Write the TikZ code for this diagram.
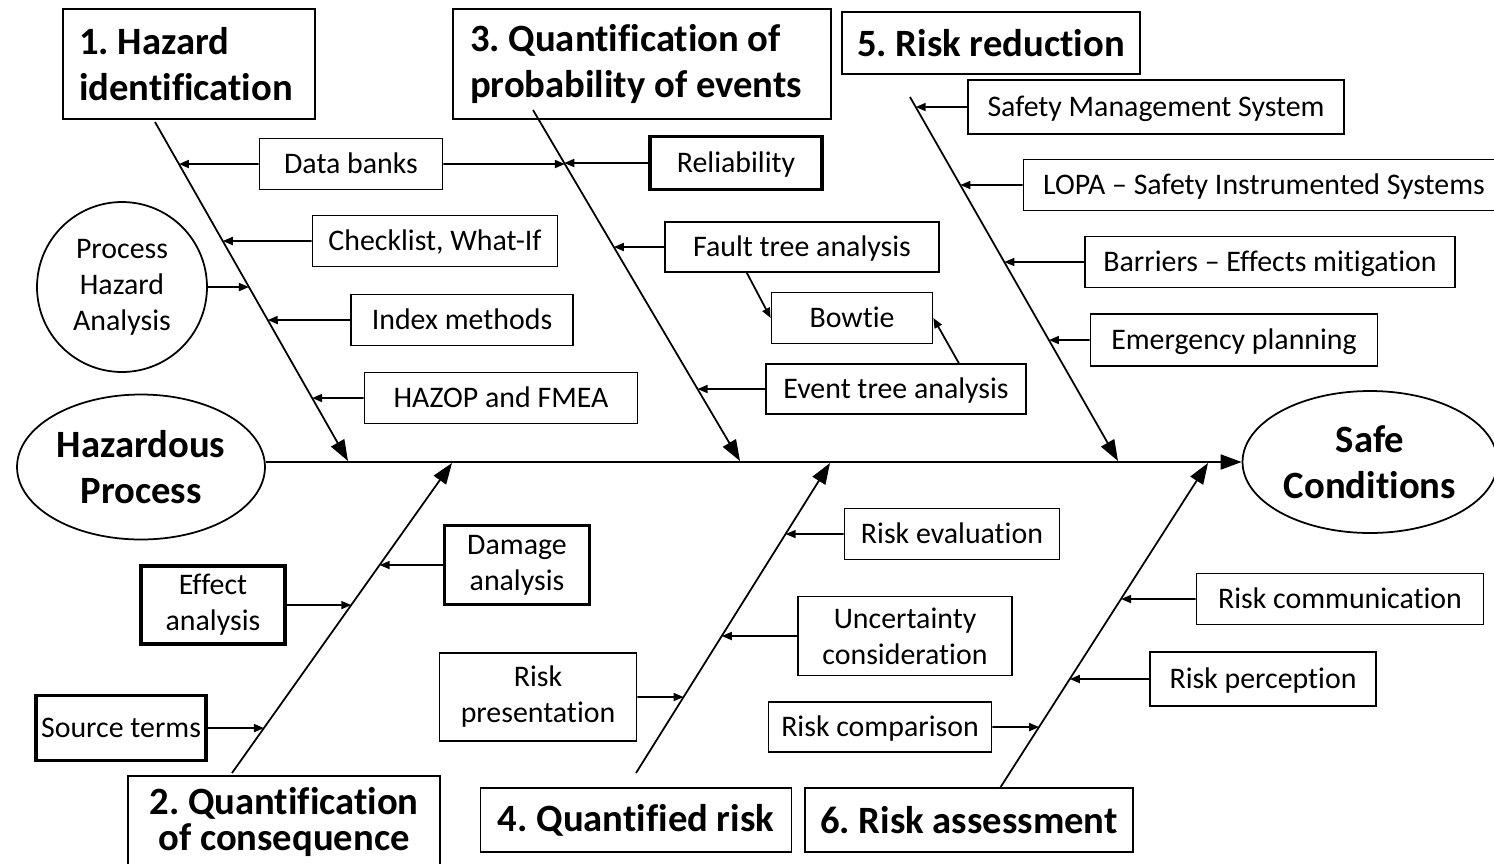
\documentclass[tikz,border=0pt]{standalone}
\usepackage{fontspec}
\setmainfont{Carlito}[Ligatures = {TeX, NoCommon}]
\usetikzlibrary{shapes.geometric,arrows.meta,calc}
\frenchspacing

\begin{document}
\begin{tikzpicture}[x = 0.02cm, y = -0.02cm,
  every node/.style = {font = \fontsize{17}{20.5}\selectfont, align = center},
  box/.style = {draw, line width = 1pt, inner xsep = 2pt, minimum height = 1.02cm},
  oneline/.style = {box, text height = 14.4pt, text depth = 3.4pt},
  thickbox/.style = {box, line width = 2pt},
  title/.style = {draw, line width = 1pt, inner xsep = 2pt, font = \bfseries\fontsize{22}{26}\selectfont},
  bubble/.style = {draw, line width = 1pt, inner sep = 0pt},
  bone/.style = {line width = 1pt, -{Triangle[length = 0.42cm, width = 0.3cm]}},
  twig/.style = {line width = 1pt, -{Triangle[length = 0.2cm, width = 0.16cm]}}]

  \useasboundingbox (0, 0) rectangle (1494, 863);
  \clip (0, 0) rectangle (1494, 863);

  % head and tail
  \node [bubble, ellipse, minimum width = 4.96cm, minimum height = 2.9cm, font = \bfseries\fontsize{22}{26}\selectfont] (haz) at (141, 467) {Hazardous\\Process};
  \node [bubble, ellipse, minimum width = 5.1cm, minimum height = 2.84cm, font = \bfseries\fontsize{22}{26}\selectfont] (safe) at (1370, 462) {Safe\\Conditions};
  \draw [bone] (haz.east |- safe.west) -- (safe.west);

  % titles
  \node [title, text width = 4.4cm, inner xsep = 0.32cm, minimum height = 2.2cm, align = flush left] (t1) at (189, 64) {1. Hazard\\identification};
  \node [title, text width = 6.88cm, inner xsep = 0.34cm, minimum height = 2.2cm, align = flush left] (t3) at (642, 64) {3. Quantification of\\probability of events};
  \node [title, minimum width = 5.96cm, minimum height = 1.24cm] (t5) at (991, 43) {5. Risk reduction};
  \node [title, minimum width = 6.24cm, minimum height = 1.84cm] (t2) at (284, 822) {2. Quantification\\[-0.2cm]of consequence};
  \node [title, minimum width = 6.22cm, minimum height = 1.28cm] (t4) at (636, 820) {4. Quantified risk};
  \node [title, minimum width = 6.56cm, minimum height = 1.28cm] (t6) at (969, 820) {6. Risk assessment};

  \coordinate (b1s) at (155, 122);  \coordinate (b1e) at (348, 461);
  \coordinate (b3s) at (533, 110);  \coordinate (b3e) at (740, 461);
  \coordinate (b5s) at (910, 97);   \coordinate (b5e) at (1118, 461);
  \coordinate (b2s) at (232, 773);  \coordinate (b2e) at (452, 463);
  \coordinate (b4s) at (636, 773);  \coordinate (b4e) at (830, 463);
  \coordinate (b6s) at (1000, 788); \coordinate (b6e) at (1208, 463);

  \draw [bone] (b1s) -- (b1e);
  \draw [bone] (b3s) -- (b3e);
  \draw [bone] (b5s) -- (b5e);
  \draw [bone] (b2s) -- (b2e);
  \draw [bone] (b4s) -- (b4e);
  \draw [bone] (b6s) -- (b6e);

  % 1 and 3
  \node [oneline, minimum width = 3.66cm] (db) at (351, 164) {Data banks};
  \node [oneline, thickbox, minimum width = 3.44cm, minimum height = 1.06cm] (rel) at (736, 163) {Reliability};
  \node [bubble, circle, minimum size = 3.4cm] (pha) at (122, 287) {Process\\Hazard\\Analysis};
  \node [oneline, minimum width = 4.9cm] (chk) at (435, 241) {Checklist, What-If};
  \node [oneline, minimum width = 4.44cm] (idx) at (462, 320) {Index methods};
  \node [oneline, minimum width = 5.46cm] (hzp) at (501, 398) {HAZOP and FMEA};
  \node [oneline, minimum width = 5.48cm, minimum height = 1cm] (fta) at (802, 247) {Fault tree analysis};
  \node [oneline, minimum width = 3.22cm] (bow) at (852, 318) {Bowtie};
  \node [oneline, minimum width = 5.2cm, minimum height = 1cm] (eta) at (896, 389) {Event tree analysis};

  \draw [twig] (db.west) -- (intersection of db.west--db.east and b1s--b1e);
  \draw [twig] (db.east) -- (intersection of db.west--db.east and b3s--b3e);
  \draw [twig] (rel.west) -- (intersection of rel.west--rel.east and b3s--b3e);
  \draw [twig] (chk.west) -- (intersection of chk.west--chk.east and b1s--b1e);
  \draw [twig] (pha.east) -- (intersection of pha.west--pha.east and b1s--b1e);
  \draw [twig] (idx.west) -- (intersection of idx.west--idx.east and b1s--b1e);
  \draw [twig] (hzp.west) -- (intersection of hzp.west--hzp.east and b1s--b1e);
  \draw [twig] (fta.west) -- (intersection of fta.west--fta.east and b3s--b3e);
  \draw [twig] (eta.west) -- (intersection of eta.west--eta.east and b3s--b3e);
  \draw [twig] ($(fta.south west)!0.3!(fta.south east)$) -- (bow.west);
  \draw [twig] ($(eta.north west)!0.74!(eta.north east)$) -- (bow.east);

  % 5
  \node [oneline, minimum width = 7.52cm, minimum height = 1.08cm] (sms) at (1156, 107) {Safety Management System};
  \node [oneline, minimum width = 9.62cm] (lopa) at (1264, 185) {LOPA – Safety Instrumented Systems};
  \node [oneline, minimum width = 7.4cm] (bar) at (1270, 262) {Barriers – Effects mitigation};
  \node [oneline, minimum width = 5.74cm, minimum height = 1.04cm] (emg) at (1234, 340) {Emergency planning};

  \draw [twig] (sms.west) -- (intersection of sms.west--sms.east and b5s--b5e);
  \draw [twig] (lopa.west) -- (intersection of lopa.west--lopa.east and b5s--b5e);
  \draw [twig] (bar.west) -- (intersection of bar.west--bar.east and b5s--b5e);
  \draw [twig] (emg.west) -- (intersection of emg.west--emg.east and b5s--b5e);

  % 2
  \node [thickbox, minimum width = 2.9cm, minimum height = 1.58cm] (dam) at (517, 565) {Damage\\analysis};
  \node [thickbox, minimum width = 2.88cm, minimum height = 1.56cm] (eff) at (213, 605) {Effect\\analysis};
  \node [oneline, thickbox, minimum width = 3.4cm, minimum height = 1.3cm] (src) at (121, 728) {Source terms};

  \draw [twig] (dam.west) -- (intersection of dam.west--dam.east and b2s--b2e);
  \draw [twig] (eff.east) -- (intersection of eff.west--eff.east and b2s--b2e);
  \draw [twig] (src.east) -- (intersection of src.west--src.east and b2s--b2e);

  % 4
  \node [oneline, minimum width = 4.3cm] (rev) at (952, 534) {Risk evaluation};
  \node [box, minimum width = 4.28cm, minimum height = 1.58cm] (unc) at (905, 636) {Uncertainty\\consideration};
  \node [box, minimum width = 3.94cm, minimum height = 1.76cm] (rpr) at (538, 697) {Risk\\presentation};

  \draw [twig] (rev.west) -- (intersection of rev.west--rev.east and b4s--b4e);
  \draw [twig] (unc.west) -- (intersection of unc.west--unc.east and b4s--b4e);
  \draw [twig] (rpr.east) -- (intersection of rpr.west--rpr.east and b4s--b4e);

  % 6
  \node [oneline, minimum width = 4.46cm, minimum height = 1cm] (rcm) at (880, 727) {Risk comparison};
  \node [oneline, minimum width = 5.74cm] (rco) at (1340, 599) {Risk communication};
  \node [oneline, minimum width = 4.52cm, minimum height = 1.08cm] (rpe) at (1263, 679) {Risk perception};

  \draw [twig] (rcm.east) -- (intersection of rcm.west--rcm.east and b6s--b6e);
  \draw [twig] (rco.west) -- (intersection of rco.west--rco.east and b6s--b6e);
  \draw [twig] (rpe.west) -- (intersection of rpe.west--rpe.east and b6s--b6e);

\end{tikzpicture}
\end{document}
